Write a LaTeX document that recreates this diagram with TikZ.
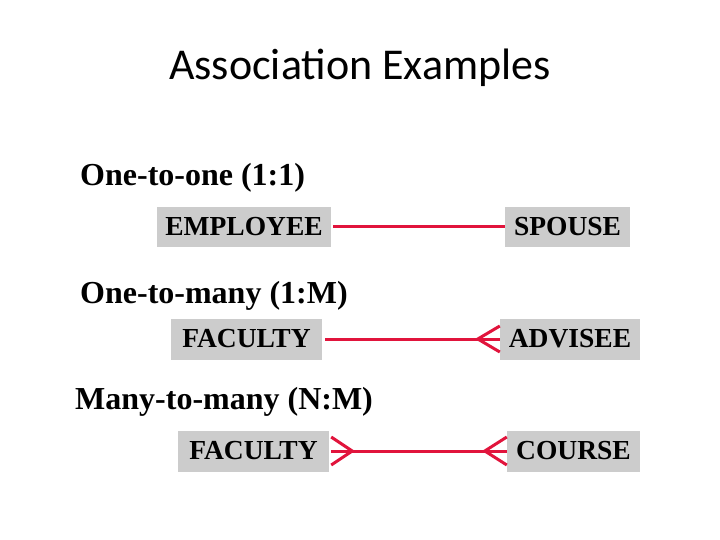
\documentclass[tikz,border=0pt]{standalone}
\usepackage{fontspec}
\setmainfont{Liberation Serif}
\newfontfamily\titlefont{Carlito}
\usetikzlibrary{positioning,calc}
\definecolor{relred}{RGB}{225,20,60}

\begin{document}
\begin{tikzpicture}[
    x=1pt, y=-1pt,
    entity/.style={rectangle, fill=gray!40, inner sep=0pt, font=\fontsize{27.5}{30}\selectfont\bfseries},
    heading/.style={anchor=west, inner sep=0pt, font=\fontsize{32}{36}\selectfont\bfseries},
    rel/.style={draw=relred, line width=3pt},
]
    \useasboundingbox (0,0) rectangle (720,540);
    % Title
    \node[font=\titlefont\fontsize{44}{48}\selectfont] (title) at (360,68) {Association Examples};

    % One-to-one
    \node[heading] (h1) at (80,178) {One-to-one (1:1)};
    \node[entity, minimum width=174, minimum height=40] (emp) at (244,227) {EMPLOYEE};
    \node[entity, minimum width=125, minimum height=40] (spouse) at (567.5,227) {SPOUSE};
    \draw[rel] ([xshift=2]emp.east) -- (spouse.west);

    % One-to-many
    \node[heading] (h2) at (80,296) {One-to-many (1:M)};
    \node[entity, minimum width=151, minimum height=41] (fac1) at (246.5,339) {FACULTY};
    \node[entity, minimum width=140, minimum height=41] (adv) at (570,339) {ADVISEE};
    \draw[rel] ([xshift=3]fac1.east) -- (adv.west);
    \draw[rel] ([yshift=-13]adv.west) -- ([xshift=-22]adv.west) -- ([yshift=13]adv.west);

    % Many-to-many
    \node[heading] (h3) at (75,402) {Many-to-many (N:M)};
    \node[entity, minimum width=151, minimum height=41] (fac2) at (253.5,451) {FACULTY};
    \node[entity, minimum width=133, minimum height=41] (course) at (573.5,451) {COURSE};
    \draw[rel] ([xshift=2]fac2.east) -- (course.west);
    \draw[rel] ([xshift=2,yshift=-14]fac2.east) -- ([xshift=23]fac2.east) -- ([xshift=2,yshift=14]fac2.east);
    \draw[rel] ([yshift=-14]course.west) -- ([xshift=-22]course.west) -- ([yshift=14]course.west);
\end{tikzpicture}
\end{document}
